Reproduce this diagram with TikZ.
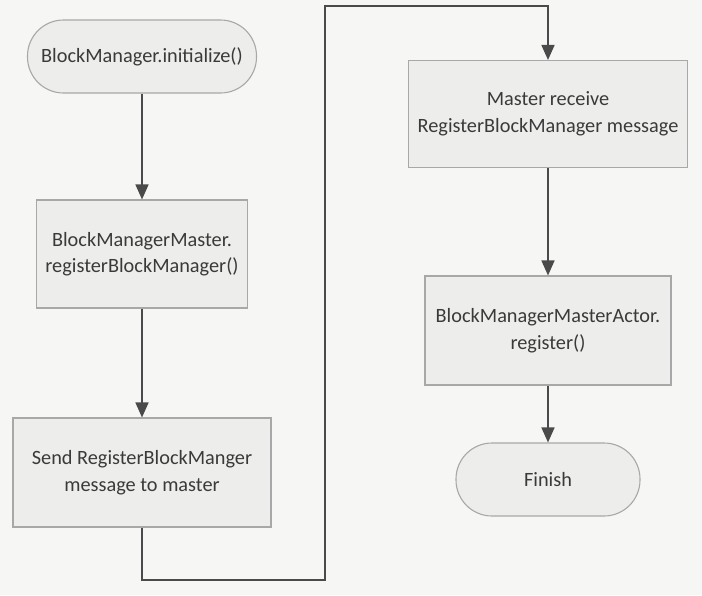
\documentclass[tikz,border=0pt]{standalone}
\usepackage{fontspec}
\setmainfont{Carlito}
\usetikzlibrary{arrows.meta}
\definecolor{bg}{HTML}{F6F6F4}
\definecolor{boxfill}{HTML}{EDEDEB}
\definecolor{boxline}{HTML}{A8A8A8}
\definecolor{txt}{HTML}{3A3A3A}
\definecolor{arrcol}{HTML}{4A4A4A}
\tikzset{
  stepbox/.style={draw=boxline, fill=boxfill, line width=1.1pt, inner sep=0pt,
    align=center, text=txt, font=\fontsize{20.3}{26.5}\selectfont},
  termbox/.style={stepbox, rounded corners=36pt},
  arr/.style={draw=arrcol, line width=1.6pt, -{Triangle[length=15pt,width=13pt]}},
}
\begin{document}
\begin{tikzpicture}[x=1pt,y=-1pt]
\useasboundingbox[fill=bg] (0,0) rectangle (702,595);
\node[termbox, minimum width=229pt, minimum height=73pt] (n1) at (142,56.5) {BlockManager.initialize()};
\node[stepbox, minimum width=211pt, minimum height=108pt] (n2) at (142,254) {BlockManagerMaster.\\registerBlockManager()};
\node[stepbox, minimum width=258pt, minimum height=109pt] (n3) at (142,472.5) {Send RegisterBlockManger\\message to master};
\node[stepbox, minimum width=279pt, minimum height=107pt] (n4) at (548,114) {Master receive\\RegisterBlockManager message};
\node[stepbox, minimum width=246pt, minimum height=109pt] (n5) at (548,330.5) {BlockManagerMasterActor.\\register()};
\node[termbox, minimum width=184pt, minimum height=73pt] (n6) at (548,479.5) {Finish};
\coordinate (c1) at (325,580);
\coordinate (c2) at (325,6);
\draw[arr] (n1.south) -- (n2.north);
\draw[arr] (n2.south) -- (n3.north);
\draw[arr] (n3.south) |- (c1) -- (c2) -| (n4.north);
\draw[arr] (n4.south) -- (n5.north);
\draw[arr] (n5.south) -- (n6.north);
\end{tikzpicture}
\end{document}
